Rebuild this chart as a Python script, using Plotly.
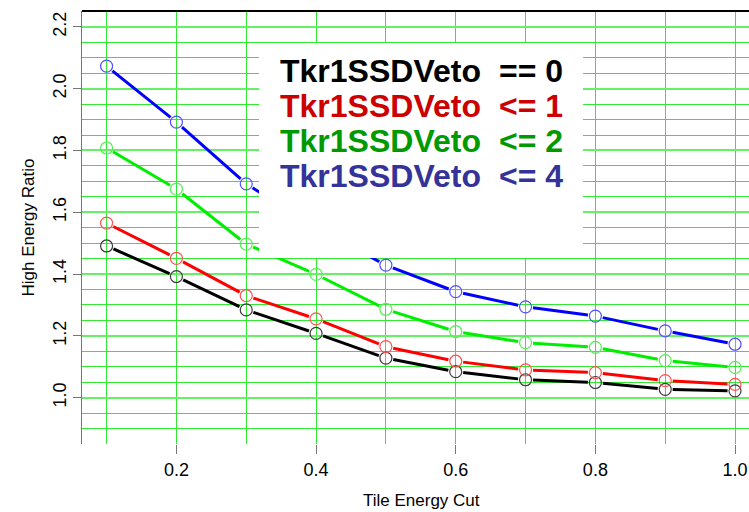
import plotly.graph_objects as go

# ---- data ----
tile_cut = [0.1, 0.2, 0.3, 0.4, 0.5, 0.6, 0.7, 0.8, 0.9, 1.0]
veto_eq0 = [1.491, 1.392, 1.284, 1.208, 1.128, 1.084, 1.058, 1.049, 1.027, 1.022]
veto_le1 = [1.565, 1.451, 1.330, 1.255, 1.165, 1.118, 1.090, 1.081, 1.055, 1.043]
veto_le2 = [1.808, 1.675, 1.497, 1.399, 1.286, 1.214, 1.178, 1.163, 1.120, 1.098]
veto_le4 = [2.073, 1.892, 1.692, 1.550, 1.429, 1.343, 1.294, 1.264, 1.216, 1.173]
legend_left = ["Tkr1SSDVeto", "Tkr1SSDVeto", "Tkr1SSDVeto", "Tkr1SSDVeto"]
legend_right = ["== 0", "<= 1", "<= 2", "<= 4"]
x_ticks = [0.2, 0.4, 0.6, 0.8, 1.0]
y_ticks = [1.0, 1.2, 1.4, 1.6, 1.8, 2.0, 2.2]

W, H = 749, 512
ML, MR, MT, MB = 82, 0, 11, 68
XR = [0.0648, 1.020]
YR = [0.85, 2.2515]
pw, ph = W - ML - MR, H - MT - MB
sx = pw / (XR[1] - XR[0])
sy = ph / (YR[1] - YR[0])

series = [
    (veto_eq0, "#000000", "#3a3a3a"),
    (veto_le1, "#ff0000", "#ff5050"),
    (veto_le2, "#00ee00", "#55ee55"),
    (veto_le4, "#0000ff", "#5050ff"),
]

fig = go.Figure()
gap = 7.5  # px gap around points (R type="b")
for ys, lc, mc in series:
    gx, gy = [], []
    for i in range(len(tile_cut) - 1):
        x0, y0, x1, y1 = tile_cut[i], ys[i], tile_cut[i + 1], ys[i + 1]
        dxp, dyp = (x1 - x0) * sx, (y1 - y0) * sy
        L = (dxp ** 2 + dyp ** 2) ** 0.5
        f = gap / L
        gx += [x0 + (x1 - x0) * f, x1 - (x1 - x0) * f, None]
        gy += [y0 + (y1 - y0) * f, y1 - (y1 - y0) * f, None]
    fig.add_trace(go.Scatter(x=gx, y=gy, mode="lines",
                             line=dict(color=lc, width=3),
                             showlegend=False, hoverinfo="skip"))
    fig.add_trace(go.Scatter(x=tile_cut, y=ys, mode="markers",
                             marker=dict(symbol="circle-open", size=12,
                                         color=mc, line=dict(width=1.2, color=mc)),
                             showlegend=False))

grid_major = "#66f066"
grid_minor = "#33e833"
font_fam = "Liberation Sans, Arial, sans-serif"

fig.update_xaxes(range=XR, tickmode="array", tickvals=x_ticks,
                 ticktext=[f"{v:.1f}" for v in x_ticks],
                 ticks="outside", ticklen=9, tickcolor="#777", tickwidth=1,
                 showgrid=True, gridcolor=grid_minor, gridwidth=1,
                 minor=dict(dtick=0.1, tick0=0.1, showgrid=True, gridcolor=grid_minor, gridwidth=1),
                 showline=False, zeroline=False,
                 tickfont=dict(family=font_fam, size=18, color="#000"))
fig.update_yaxes(range=YR, tickmode="array", tickvals=y_ticks,
                 ticktext=[f"{v:.1f}" for v in y_ticks],
                 ticks="outside", ticklen=8, tickcolor="#777", tickwidth=1,
                 tickangle=-90, ticklabelstandoff=0,
                 showgrid=True, gridcolor=grid_major, gridwidth=1.5,
                 minor=dict(dtick=0.05, tick0=0.85, showgrid=True, gridcolor=grid_minor, gridwidth=1),
                 showline=True, linecolor="#777", linewidth=1, zeroline=False,
                 tickfont=dict(family=font_fam, size=18, color="#000"))

shapes = [
    dict(type="rect", xref="paper", yref="paper",
         x0=(259 - ML) / pw, x1=(583 - ML) / pw,
         y0=(H - MB - 258) / ph, y1=(H - MB - 43) / ph,
         fillcolor="white", line=dict(width=0), layer="above"),
    dict(type="line", xref="paper", yref="paper", x0=0, x1=1, y0=1, y1=1,
         line=dict(color="black", width=2), layer="above"),
]

legend_colors = ["#000000", "#cc0000", "#009900", "#333399"]
annotations = []
for i, (lt, rt, c) in enumerate(zip(legend_left, legend_right, legend_colors)):
    yc = 71 + 35 * i
    yp = (H - MB - yc) / ph
    annotations.append(dict(xref="paper", yref="paper", x=(278 - ML) / pw, y=yp,
                            xanchor="left", yanchor="middle", showarrow=False,
                            text=f"<b>{lt}</b>",
                            font=dict(family=font_fam, size=32, color=c)))
    annotations.append(dict(xref="paper", yref="paper", x=(497 - ML) / pw, y=yp,
                            xanchor="left", yanchor="middle", showarrow=False,
                            text=f"<b>{rt}</b>",
                            font=dict(family=font_fam, size=32, color=c)))

# axis titles (centered on the original, wider plot region)
annotations.append(dict(xref="paper", yref="paper", x=(421 - ML) / pw, y=(H - MB - 500) / ph,
                        xanchor="center", yanchor="middle", showarrow=False,
                        text="Tile Energy Cut",
                        font=dict(family=font_fam, size=17, color="#000")))
annotations.append(dict(xref="paper", yref="paper", x=(28 - ML) / pw, y=(H - MB - 227.5) / ph,
                        xanchor="center", yanchor="middle", showarrow=False, textangle=-90,
                        text="High Energy Ratio",
                        font=dict(family=font_fam, size=17, color="#000")))

fig.update_layout(width=W, height=H, margin=dict(l=ML, r=MR, t=MT, b=MB),
                  plot_bgcolor="white", paper_bgcolor="white",
                  shapes=shapes, annotations=annotations, showlegend=False)

fig.write_html("out.html")
